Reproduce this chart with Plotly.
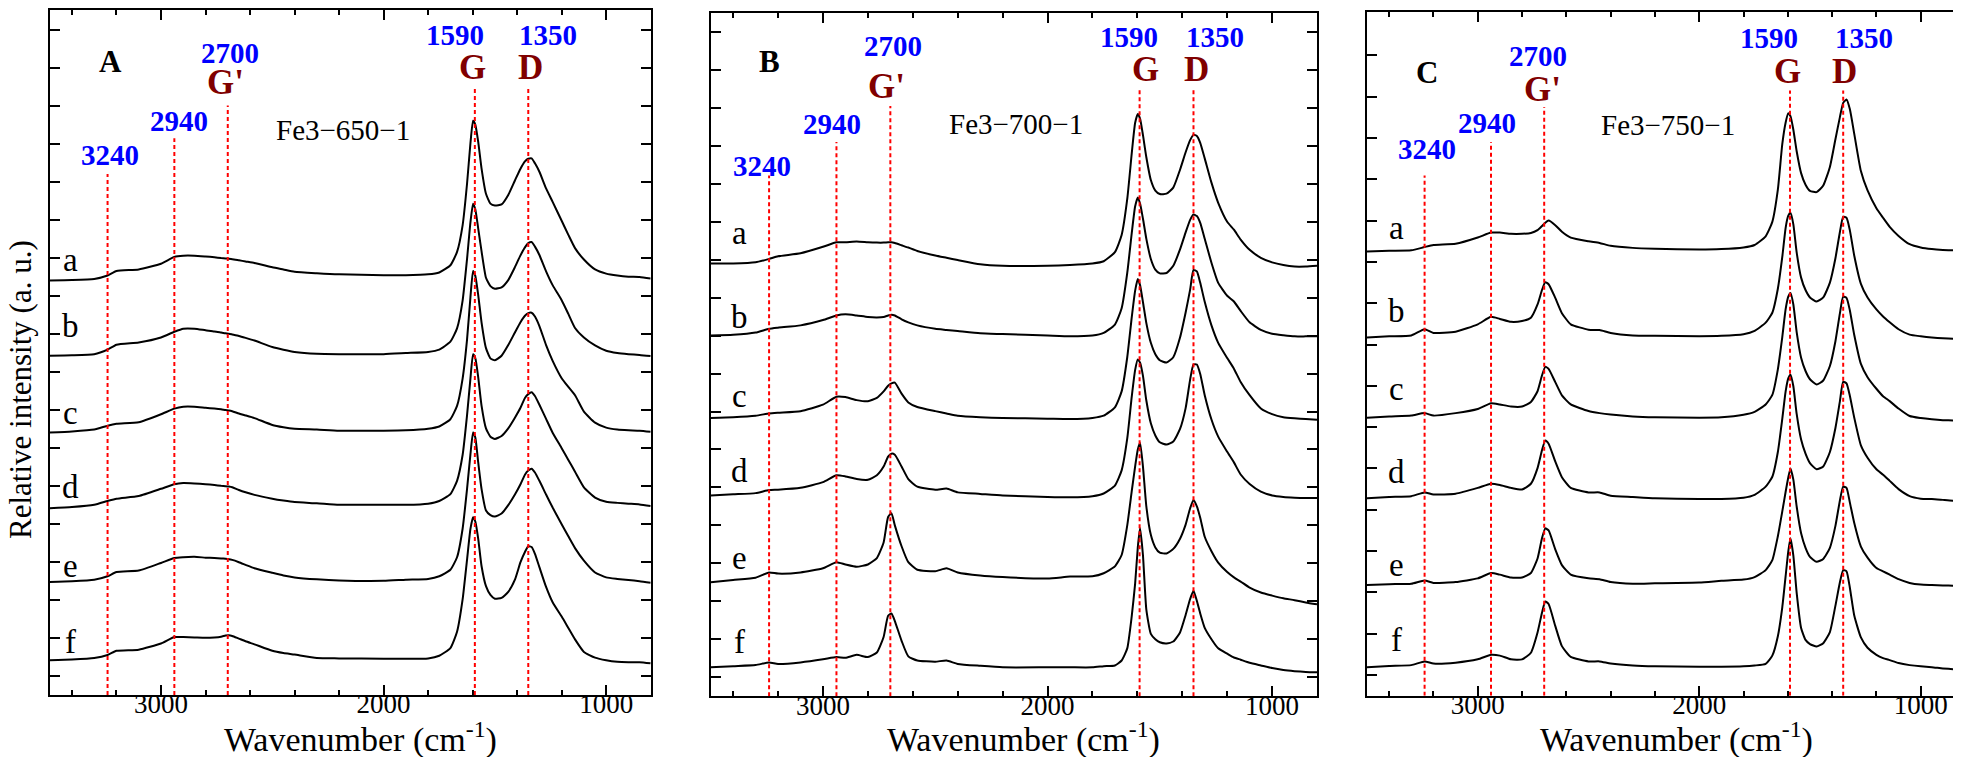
import plotly.graph_objects as go

# ---------------- data ----------------
WN = [3500, 3400, 3300, 3240, 3200, 3100, 3000, 2940, 2900, 2850, 2800, 2760, 2730, 2710, 2695,
      2680, 2650, 2620, 2580, 2500, 2450, 2400, 2300, 2200, 2000, 1900, 1800, 1750, 1700, 1670,
      1645, 1625, 1610, 1598, 1588, 1575, 1560, 1540, 1520, 1500, 1470, 1440, 1410, 1385, 1365,
      1350, 1335, 1320, 1300, 1270, 1240, 1200, 1170, 1140, 1100, 1050, 1000, 950, 900, 850, 800]

# Panel A : Fe3-650-1 (intensity above each curve's own baseline)
A_a = [0, 0.01, 0.04, 0.13, 0.25, 0.29, 0.44, 0.62, 0.65, 0.65, 0.63, 0.61, 0.59, 0.58, 0.57, 0.56, 0.53, 0.50, 0.46, 0.35, 0.29, 0.23, 0.19,
       0.16, 0.14, 0.14, 0.16, 0.21,
       0.40, 0.75, 1.45, 2.55, 3.6, 4.2, 4.1, 3.65, 2.95, 2.28, 2.02, 1.97, 2.0, 2.25, 2.63, 2.94, 3.13, 3.2, 3.21, 3.08, 2.86, 2.42, 2.06, 1.57, 1.2, 0.85, 0.55, 0.29, 0.18, 0.13, 0.10, 0.09, 0.05]
A_b = [0, 0.01, 0.04, 0.16, 0.29, 0.35, 0.48, 0.63, 0.71, 0.71, 0.67, 0.64, 0.61, 0.59, 0.58, 0.56, 0.52, 0.47, 0.40, 0.23, 0.16, 0.10, 0.05,
       0.04, 0.04, 0.07, 0.10, 0.16,
       0.37, 0.72, 1.45, 2.55, 3.5, 4.0, 3.85, 3.35, 2.75, 2.05, 1.83, 1.76, 1.8, 1.99, 2.33, 2.64, 2.85, 2.96, 2.99, 2.87, 2.65, 2.22, 1.85, 1.46, 1.1, 0.73, 0.48, 0.27, 0.13, 0.07, 0.04, 0.02, -0.01]
A_c = [0, 0.03, 0.08, 0.18, 0.23, 0.27, 0.48, 0.63, 0.68, 0.68, 0.65, 0.63, 0.61, 0.59, 0.58, 0.56, 0.50, 0.45, 0.38, 0.20, 0.14, 0.10, 0.08,
       0.05, 0.05, 0.06, 0.10, 0.16,
       0.35, 0.7, 1.42, 2.45, 3.55, 4.25, 4.12, 3.62, 2.9, 2.22, 1.95, 1.9, 2.02, 2.3, 2.63, 2.9, 3.07, 3.14, 3.15, 3.05, 2.8, 2.3, 1.88, 1.43, 1.2, 0.98, 0.55, 0.26, 0.13, 0.08, 0.06, 0.05, 0.02]
A_d = [0, 0.03, 0.09, 0.19, 0.25, 0.32, 0.51, 0.63, 0.66, 0.65, 0.63, 0.61, 0.59, 0.58, 0.57, 0.55, 0.48, 0.42, 0.35, 0.25, 0.20, 0.16, 0.13,
       0.09, 0.09, 0.09, 0.12, 0.19,
       0.37, 0.72, 1.4, 2.45, 3.4, 4.05, 3.95, 3.45, 2.7, 2.1, 1.88, 1.82, 1.9, 2.1, 2.38, 2.64, 2.9, 3.0, 3.05, 2.95, 2.72, 2.35, 1.98, 1.58, 1.27, 0.96, 0.55, 0.28, 0.17, 0.14, 0.12, 0.10, 0.06]
A_e = [0, 0.02, 0.06, 0.15, 0.26, 0.30, 0.50, 0.63, 0.65, 0.66, 0.64, 0.63, 0.62, 0.61, 0.60, 0.58, 0.52, 0.45, 0.36, 0.24, 0.17, 0.12, 0.07,
       0.04, 0.03, 0.06, 0.08, 0.15,
       0.32, 0.65, 1.4, 2.45, 3.35, 3.93, 3.8, 3.15, 2.45, 1.88, 1.76, 1.72, 1.8, 2.02, 2.3, 2.57, 2.82, 2.93, 2.98, 2.88, 2.66, 2.3, 1.95, 1.52, 1.2, 0.89, 0.56, 0.25, 0.12, 0.08, 0.05, 0.02, -0.02]
A_f = [0, 0.02, 0.06, 0.14, 0.25, 0.28, 0.44, 0.61, 0.61, 0.60, 0.59, 0.60, 0.62, 0.65, 0.66, 0.64, 0.57, 0.50, 0.42, 0.25, 0.19, 0.15, 0.06,
       0.05, 0.04, 0.04, 0.05, 0.12,
       0.32, 0.75, 1.6, 2.65, 3.45, 3.76, 3.65, 3.2, 2.48, 1.95, 1.72, 1.62, 1.64, 1.8, 2.12, 2.58, 2.85, 3.0, 2.98, 2.8, 2.45, 1.93, 1.52, 1.15, 0.85, 0.55, 0.22, 0.07, 0.0, -0.04, -0.05, -0.05, -0.08]

# Panel B : Fe3-700-1
B_a = [0, 0, 0.03, 0.12, 0.19, 0.27, 0.44, 0.56, 0.56, 0.58, 0.56, 0.55, 0.55, 0.56, 0.56, 0.54, 0.48, 0.42, 0.33, 0.21, 0.15, 0.09, -0.02,
       -0.06, -0.06, -0.04, 0.0, 0.06,
       0.3, 0.75, 1.7, 2.9, 3.7, 3.94, 3.82, 3.38, 2.8, 2.2, 1.92, 1.83, 1.84, 2.0, 2.47, 2.93, 3.25, 3.39, 3.36, 3.18, 2.77, 2.13, 1.6, 1.1, 0.89, 0.63, 0.36, 0.15, 0.03, -0.04, -0.08, -0.08, -0.06]
B_b = [0, 0.02, 0.08, 0.18, 0.21, 0.27, 0.41, 0.53, 0.56, 0.53, 0.49, 0.48, 0.49, 0.53, 0.55, 0.53, 0.43, 0.35, 0.27, 0.18, 0.15, 0.12, 0.06,
       0.04, 0.0, -0.02, 0.0, 0.07,
       0.29, 0.72, 1.65, 2.7, 3.4, 3.64, 3.48, 3.08, 2.55, 2.02, 1.74, 1.64, 1.65, 1.84, 2.27, 2.72, 3.05, 3.19, 3.15, 2.97, 2.55, 1.92, 1.39, 1.05, 0.9, 0.65, 0.35, 0.15, 0.05, 0.01, -0.02, -0.02, -0.02]
B_c = [0, 0.02, 0.06, 0.12, 0.14, 0.18, 0.35, 0.56, 0.55, 0.47, 0.44, 0.53, 0.70, 0.85, 0.91, 0.93, 0.64, 0.41, 0.29, 0.18, 0.12, 0.06, 0.02,
       0.0, -0.02, -0.03, 0.0, 0.06,
       0.28, 0.7, 1.6, 2.65, 3.35, 3.66, 3.5, 3.05, 2.5, 1.98, 1.68, 1.52, 1.46, 1.6, 2.12, 2.78, 3.38, 3.9, 3.86, 3.56, 3.06, 2.44, 1.98, 1.58, 1.3, 0.95, 0.6, 0.25, 0.1, 0.02, -0.01, -0.03, -0.05]
B_d = [0, 0.03, 0.06, 0.14, 0.15, 0.20, 0.35, 0.53, 0.50, 0.43, 0.41, 0.53, 0.76, 1.02, 1.10, 1.07, 0.76, 0.43, 0.23, 0.15, 0.18, 0.08, 0.04,
       0.0, -0.04, -0.05, -0.02, 0.05,
       0.26, 0.66, 1.5, 2.6, 3.3, 3.58, 3.5, 3.15, 2.5, 1.9, 1.58, 1.4, 1.34, 1.42, 1.75, 2.3, 3.05, 3.45, 3.45, 3.2, 2.64, 2.0, 1.55, 1.15, 0.87, 0.55, 0.3, 0.1, 0.0, -0.04, -0.06, -0.07, -0.07]
B_e = [0, 0.06, 0.12, 0.26, 0.23, 0.26, 0.37, 0.53, 0.47, 0.41, 0.47, 0.64, 1.05, 1.72, 1.82, 1.5, 0.95, 0.53, 0.33, 0.29, 0.37, 0.26, 0.18,
       0.14, 0.10, 0.15, 0.16, 0.24,
       0.42, 0.72, 1.5, 2.4, 3.05, 3.5, 3.68, 3.05, 2.0, 1.25, 0.92, 0.78, 0.76, 0.88, 1.15, 1.52, 1.95, 2.17, 2.0, 1.7, 1.2, 0.82, 0.52, 0.27, 0.13, 0.02, -0.14, -0.27, -0.35, -0.42, -0.47, -0.53, -0.58]
B_f = [0, 0.03, 0.06, 0.13, 0.09, 0.13, 0.21, 0.27, 0.25, 0.33, 0.27, 0.39, 0.8, 1.36, 1.42, 1.22, 0.7, 0.29, 0.18, 0.15, 0.18, 0.09, 0.04,
       0.0, 0.0, 0.0, 0.0, 0.03,
       0.05, 0.18, 0.5, 1.35, 2.2, 3.16, 3.67, 2.95, 1.52, 0.88, 0.74, 0.66, 0.63, 0.68, 0.92, 1.38, 1.8, 2.02, 1.75, 1.42, 1.04, 0.74, 0.5, 0.36, 0.26, 0.2, 0.12, 0.05, -0.02, -0.07, -0.1, -0.12, -0.13]

# Panel C : Fe3-750-1
C_a = [0, 0.02, 0.03, 0.11, 0.16, 0.19, 0.34, 0.46, 0.46, 0.43, 0.43, 0.45, 0.52, 0.62, 0.70, 0.75, 0.64, 0.48, 0.34, 0.25, 0.21, 0.14, 0.09,
       0.07, 0.05, 0.06, 0.10, 0.16,
       0.37, 0.72, 1.5, 2.6, 3.12, 3.35, 3.28, 2.95, 2.43, 1.9, 1.62, 1.47, 1.44, 1.6, 2.05, 2.72, 3.25, 3.6, 3.68, 3.45, 2.85, 1.95, 1.48, 1.05, 0.82, 0.6, 0.38, 0.18, 0.1, 0.06, 0.04, 0.03, 0.02]
C_b = [0, 0.03, 0.05, 0.20, 0.11, 0.14, 0.32, 0.50, 0.45, 0.38, 0.40, 0.48, 0.80, 1.15, 1.34, 1.29, 0.96, 0.59, 0.32, 0.19, 0.18, 0.11, 0.05,
       0.04, 0.03, 0.04, 0.08, 0.16,
       0.36, 0.6, 1.18, 1.95, 2.65, 2.95, 3.02, 2.74, 2.06, 1.45, 1.15, 0.97, 0.87, 0.97, 1.33, 1.92, 2.55, 2.92, 2.9, 2.6, 1.98, 1.3, 0.97, 0.68, 0.51, 0.37, 0.2, 0.07, 0.03, 0.0, -0.02, -0.03, -0.03]
C_c = [0, 0.03, 0.05, 0.11, 0.05, 0.11, 0.21, 0.35, 0.32, 0.27, 0.27, 0.38, 0.64, 1.02, 1.23, 1.18, 0.86, 0.54, 0.32, 0.16, 0.11, 0.075, 0.03,
       0.01, 0.0, 0.01, 0.07, 0.14,
       0.32, 0.55, 1.17, 1.95, 2.62, 2.93, 3.02, 2.74, 2.07, 1.45, 1.13, 0.93, 0.8, 0.9, 1.25, 1.85, 2.52, 2.93, 2.9, 2.6, 2.0, 1.3, 0.98, 0.7, 0.52, 0.4, 0.22, 0.04, -0.01, -0.04, -0.06, -0.07, -0.08]
C_d = [0, 0.03, 0.05, 0.14, 0.09, 0.11, 0.25, 0.35, 0.32, 0.25, 0.21, 0.35, 0.73, 1.16, 1.40, 1.32, 0.89, 0.51, 0.25, 0.14, 0.14, 0.06, 0.03,
       0.0, -0.02, -0.02, 0.01, 0.08,
       0.28, 0.52, 1.12, 1.92, 2.58, 2.9, 2.99, 2.71, 2.04, 1.42, 1.08, 0.85, 0.7, 0.77, 1.12, 1.7, 2.34, 2.82, 2.78, 2.48, 1.95, 1.28, 0.98, 0.7, 0.57, 0.42, 0.22, 0.05, -0.01, -0.02, -0.04, -0.06, -0.07]
C_e = [0, 0.02, 0.03, 0.11, 0.05, 0.07, 0.16, 0.29, 0.25, 0.18, 0.18, 0.29, 0.64, 1.13, 1.37, 1.32, 0.86, 0.48, 0.25, 0.16, 0.14, 0.07, 0.03,
       0.04, 0.06, 0.10, 0.13, 0.19,
       0.36, 0.6, 1.18, 1.78, 2.25, 2.6, 2.82, 2.55, 1.9, 1.25, 0.9, 0.68, 0.56, 0.63, 0.9, 1.43, 2.04, 2.38, 2.35, 2.0, 1.5, 0.93, 0.66, 0.41, 0.33, 0.25, 0.14, 0.05, 0.01, 0.0, -0.01, -0.02, -0.03]
C_f = [0, 0.03, 0.05, 0.14, 0.09, 0.11, 0.19, 0.30, 0.28, 0.19, 0.19, 0.35, 0.84, 1.32, 1.59, 1.53, 1.0, 0.51, 0.25, 0.14, 0.14, 0.09, 0.04,
       0.02, 0.01, 0.01, 0.02, 0.04,
       0.08, 0.28, 0.75, 1.45, 2.2, 2.8, 3.12, 2.7, 1.8, 0.95, 0.66, 0.56, 0.5, 0.58, 0.85, 1.49, 2.05, 2.35, 2.32, 1.93, 1.25, 0.72, 0.47, 0.3, 0.22, 0.17, 0.1, 0.05, 0.02, 0.0, -0.03, -0.05, -0.08]

OFFSETS_A = [10.9, 8.92, 6.9, 4.91, 2.97, 0.91]
OFFSETS_B = [11.4, 9.5, 7.33, 5.29, 3.0, 0.76]
OFFSETS_C = [10.75, 8.67, 6.73, 4.78, 2.68, 0.69]

CURVE_LABELS = ['a', 'b', 'c', 'd', 'e', 'f']
PANEL_LETTERS = ['A', 'B', 'C']
SAMPLES = ['Fe3\u2212650\u22121', 'Fe3\u2212700\u22121', 'Fe3\u2212750\u22121']
PEAK_WN = [3240, 2940, 2700, 1590, 1350]
PEAK_TEXT = ['3240', '2940', '2700', '1590', '1350']
BAND_NAMES = ["G'", 'G', 'D']
X_TICKS = [3000, 2000, 1000]
X_TICK_TEXT = ['3000', '2000', '1000']
X_MINOR = [3400, 3200, 2800, 2600, 2400, 2200, 1800, 1600, 1400, 1200]

SERIES = [[A_a, A_b, A_c, A_d, A_e, A_f],
          [B_a, B_b, B_c, B_d, B_e, B_f],
          [C_a, C_b, C_c, C_d, C_e, C_f]]
OFFSETS = [OFFSETS_A, OFFSETS_B, OFFSETS_C]

# ---------------- layout geometry (pixels) ----------------
W, H = 1961, 757
FRAMES = [(41.7, 642.7, 0.5, 686.7), (702.7, 1309.0, 3.0, 688.0), (1359.0, 1957.0, 2.0, 687.5)]
YMAX = [18.0, 18.0, 16.55]

LETTER_POS = [(3227, 16.67), (3237, 16.71), (3231, 15.08)]
PEAKTXT_POS = [
    [(3227, 14.2), (2918, 15.1), (2688, 16.88), (1680, 17.35), (1262, 17.35)],
    [(3271, 13.97), (2958, 15.08), (2689, 17.13), (1639, 17.36), (1254, 17.38)],
    [(3228, 13.24), (2958, 13.86), (2726, 15.49), (1684, 15.93), (1258, 15.93)],
]
BAND_POS = [
    [(2710, 16.1), (1602, 16.49), (1341, 16.49)],
    [(2715, 16.06), (1564, 16.5), (1336, 16.5)],
    [(2706, 14.68), (1603, 15.12), (1343, 15.12)],
]
LINE_TOPS = [[13.7, 14.64, 15.5, 16.0, 16.0],
             [13.72, 14.6, 15.55, 16.0, 16.0],
             [12.59, 13.4, 14.25, 14.65, 14.65]]
SAMPLE_POS = [(2182, 14.85), (2142, 15.07), (2142, 13.81)]
LABEL_X = [3405, 3372, 3366]
LABEL_Y = [[11.45, 9.7, 7.42, 5.46, 3.4, 1.39],
           [12.2, 9.99, 7.9, 5.92, 3.63, 1.42],
           [11.33, 9.32, 7.43, 5.41, 3.16, 1.36]]

SERIF = 'Liberation Serif'
BLUE = '#0000ff'
DARKRED = '#800000'

fig = go.Figure()
annotations = []
shapes = []
layout = dict(width=W, height=H, margin=dict(l=0, r=0, t=0, b=0),
              paper_bgcolor='white', plot_bgcolor='white', showlegend=False,
              font=dict(family=SERIF, color='black'))

for p in range(3):
    sfx = '' if p == 0 else str(p + 1)
    xref, yref = 'x' + sfx, 'y' + sfx
    l, r, t, b = FRAMES[p]
    for k, arr in enumerate(SERIES[p]):
        fig.add_trace(go.Scatter(
            x=WN, y=[v + OFFSETS[p][k] for v in arr], mode='lines',
            line=dict(color='black', width=2, shape='spline', smoothing=0.5),
            xaxis=xref, yaxis=yref, hoverinfo='skip'))
    layout['xaxis' + sfx] = dict(
        domain=[l / W, r / W], anchor=yref, range=[3500, 800],
        tickmode='array', tickvals=X_TICKS, ticktext=X_TICK_TEXT,
        ticks='inside', ticklen=10, tickwidth=2, tickcolor='black',
        ticklabelstandoff=-16,
        minor=dict(tickmode='array', tickvals=X_MINOR, ticks='inside', ticklen=5,
                   tickwidth=2, tickcolor='black', showgrid=False),
        showline=True, linewidth=2, linecolor='black', mirror='ticks',
        showgrid=False, zeroline=False,
        tickfont=dict(family=SERIF, size=27, color='black'))
    layout['yaxis' + sfx] = dict(
        domain=[(H - b) / H, (H - t) / H], anchor=xref, range=[0, YMAX[p]],
        tickmode='array', tickvals=[i + 0.5 for i in range(int(YMAX[p]))],
        ticks='inside', ticklen=10, tickwidth=2, tickcolor='black',
        showticklabels=False,
        showline=True, linewidth=2, linecolor='black', mirror='ticks',
        showgrid=False, zeroline=False)

    for i, wn in enumerate(PEAK_WN):
        shapes.append(dict(type='line', xref=xref, yref=yref, x0=wn, x1=wn,
                           y0=0, y1=LINE_TOPS[p][i],
                           line=dict(color='#ff0000', width=2, dash='4px,3px')))
    lx, ly = LETTER_POS[p]
    annotations.append(dict(x=lx, y=ly, xref=xref, yref=yref, text='<b>%s</b>' % PANEL_LETTERS[p],
                            showarrow=False, font=dict(family=SERIF, size=31, color='black')))
    for i, txt in enumerate(PEAK_TEXT):
        px_, py_ = PEAKTXT_POS[p][i]
        annotations.append(dict(x=px_, y=py_, xref=xref, yref=yref, text='<b>%s</b>' % txt,
                                showarrow=False, font=dict(family=SERIF, size=29, color=BLUE)))
    for i, nm in enumerate(BAND_NAMES):
        bx, by = BAND_POS[p][i]
        annotations.append(dict(x=bx, y=by, xref=xref, yref=yref, text='<b>%s</b>' % nm,
                                showarrow=False, font=dict(family=SERIF, size=35, color=DARKRED)))
    sx, sy = SAMPLE_POS[p]
    annotations.append(dict(x=sx, y=sy, xref=xref, yref=yref, text=SAMPLES[p],
                            showarrow=False, font=dict(family=SERIF, size=29, color='black')))
    for k, lab in enumerate(CURVE_LABELS):
        annotations.append(dict(x=LABEL_X[p], y=LABEL_Y[p][k], xref=xref, yref=yref, text=lab,
                                showarrow=False, font=dict(family=SERIF, size=33, color='black')))
    annotations.append(dict(x=((l + r) / 2 + 10) / W, y=(H - 729) / H, xref='paper', yref='paper',
                            text='Wavenumber (cm<sup>-1</sup>)', showarrow=False,
                            xanchor='center', yanchor='middle',
                            font=dict(family=SERIF, size=34, color='black')))

annotations.append(dict(x=13 / W, y=(H - 381) / H, xref='paper', yref='paper',
                        text='Relative intensity (a. u.)', textangle=-90, showarrow=False,
                        xanchor='center', yanchor='middle',
                        font=dict(family=SERIF, size=31, color='black')))

layout['annotations'] = annotations
layout['shapes'] = shapes
fig.update_layout(**layout)
fig.write_html('out.html')
